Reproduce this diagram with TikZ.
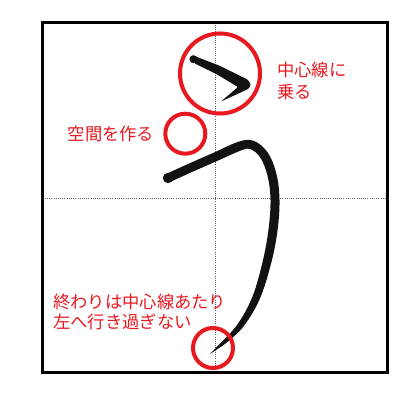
\documentclass[tikz,border=0pt]{standalone}
\usepackage{fontspec}
\newfontfamily\jpfont{Noto Sans CJK JP}
\usetikzlibrary{positioning}
\definecolor{KanaRed}{RGB}{232,24,32}
\definecolor{KanaInk}{RGB}{18,18,18}
\definecolor{KanaGrid}{RGB}{95,95,95}

\begin{document}
\begin{tikzpicture}[x=0.025cm,y=-0.025cm]
        \tikzset{ring/.style={circle,draw=KanaRed,line width=2.85pt,inner sep=0pt},note/.style={text=KanaRed,align=left,inner sep=0pt,font=\jpfont\fontsize{12.3}{15.9}\selectfont}}
        \useasboundingbox (0,0) rectangle (400,400);
        % guide lines and frame
        \draw[KanaGrid,line width=0.55pt,densely dotted] (215,22.7) -- (215,372.3);
        \draw[KanaGrid,line width=0.55pt,densely dotted] (42.7,198) -- (387.3,198);
        \draw[black,line width=2.5pt] (42.7,22.7) rectangle (387.3,372.3);
        % first stroke
        \fill[KanaInk,rounded corners=1pt] (192.3,55.2) -- (219.2,65.6) -- (247.8,79.6) -- (251,85) -- (248.3,89) -- (221,101.5) -- (238,87) -- (216.6,74.2) -- (194.3,63.3) -- cycle;
        \fill[KanaInk] (193.4,59.2) circle[radius=4];
        % second stroke
        \fill[KanaInk] plot[smooth,tension=0.6] coordinates {(166.2,173.9) (188.2,163.9) (213.2,152.9) (238.6,141.7) (253.6,140.8) (267.7,152.5) (276.4,173.9) (279.5,199.9) (277.5,230.6) (271.2,263) (259.5,299.5) (242.4,327.8) (223.2,345.3)}
          -- (210,354)
          -- plot[smooth,tension=0.6] coordinates {(220.8,342.7) (237.6,324.2) (252.5,296.5) (262.8,261) (268.5,229.4) (270.5,200.1) (267.6,176.1) (260.3,157.5) (250.4,149.2) (241.4,150.3) (216.8,161.1) (191.8,172.1) (169.8,182.1)} -- cycle;
        \fill[KanaInk] (168,178) circle[radius=5.2];
        % marks
        \node[ring,minimum size=2cm] (topRing) at (220,73.5) {};
        \node[ring,minimum size=1cm] (gapRing) at (185.3,133.7) {};
        \node[ring,minimum size=1cm] (endRing) at (213,348) {};
        \node[note,anchor=west] (topNote) at (277,81) {中心線に\\乗る};
        \node[note,left=0.22cm of gapRing] (gapNote) {空間を作る};
        \node[note,anchor=west,font=\jpfont\fontsize{12.3}{14.6}\selectfont] (endNote) at (53,312) {終わりは中心線あたり\\左へ行き過ぎない};
      \end{tikzpicture}
\end{document}
